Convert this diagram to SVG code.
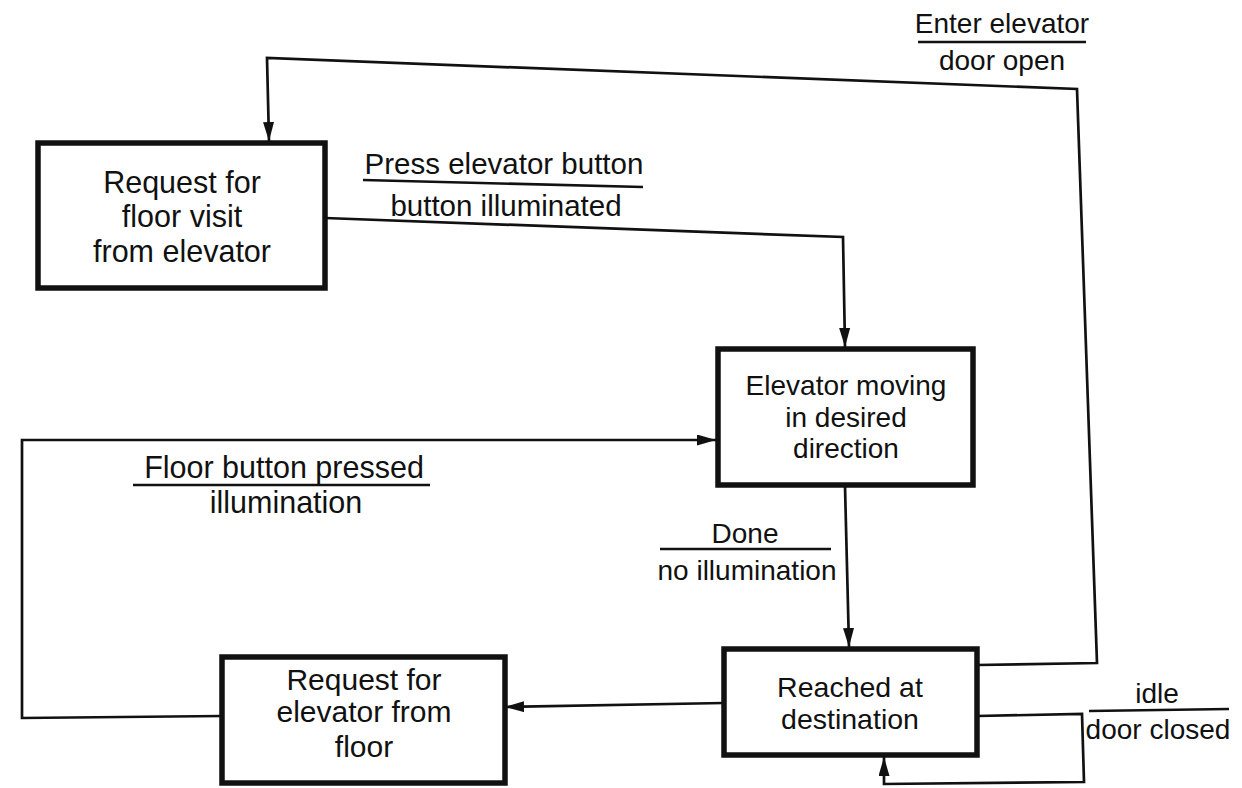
<svg xmlns="http://www.w3.org/2000/svg" width="1242" height="788" viewBox="0 0 1242 788">
  <style>
    .box { fill: #ffffff; stroke: #111111; stroke-width: 5.5; }
    .wire { fill: none; stroke: #111111; stroke-width: 2.7; stroke-linejoin: miter; }
    .rule { fill: none; stroke: #111111; stroke-width: 2.5; }
    .t { font-family: "Liberation Sans", Arial, Helvetica, sans-serif; fill: #111111; text-anchor: middle; }
    .lbl { font-size: 28px; }
  </style>
  <defs>
    <marker id="arrow" viewBox="0 0 19 11" refX="19" refY="5.5" markerWidth="19" markerHeight="11" markerUnits="userSpaceOnUse" orient="auto">
      <path d="M0,0 L19,5.5 L0,11 z" fill="#111111"/>
    </marker>
  </defs>
  <rect width="1242" height="788" fill="#ffffff"/>

  <!-- transitions -->
  <g id="connectors">
    <polyline class="wire" points="977,665 1097,663 1077,89 267,58 269,141" marker-end="url(#arrow)"/>
    <polyline class="wire" points="325,218 843,237 845,347" marker-end="url(#arrow)"/>
    <polyline class="wire" points="222,716 22,718 22,440 716,440" marker-end="url(#arrow)"/>
    <polyline class="wire" points="845,486 849,647" marker-end="url(#arrow)"/>
    <polyline class="wire" points="724,703 505,707" marker-end="url(#arrow)"/>
    <polyline class="wire" points="977,716 1082,714 1084,782 884,784 884,757" marker-end="url(#arrow)"/>
  </g>

  <!-- transition labels: event over action -->
  <g id="label-enter">
    <text class="t lbl" x="1002" y="33">Enter elevator</text>
    <line class="rule" x1="918" y1="42" x2="1086" y2="42"/>
    <text class="t lbl" x="1002" y="70">door open</text>
  </g>
  <g id="label-press">
    <text class="t" font-size="29.5" x="504" y="174">Press elevator button</text>
    <line class="rule" x1="363" y1="180" x2="643" y2="187"/>
    <text class="t" font-size="29.5" x="506" y="216">button illuminated</text>
  </g>
  <g id="label-floor">
    <text class="t" font-size="30.5" x="284" y="478">Floor button pressed</text>
    <line class="rule" x1="133" y1="485" x2="430" y2="485"/>
    <text class="t" font-size="30.5" x="286" y="513">illumination</text>
  </g>
  <g id="label-done">
    <text class="t lbl" x="745" y="543">Done</text>
    <line class="rule" x1="660" y1="549" x2="831" y2="549"/>
    <text class="t lbl" x="747" y="580">no illumination</text>
  </g>
  <g id="label-idle">
    <text class="t lbl" x="1157" y="703">idle</text>
    <line class="rule" x1="1089" y1="711" x2="1229" y2="709"/>
    <text class="t lbl" x="1158" y="739">door closed</text>
  </g>

  <!-- states -->
  <g id="state-floor-visit" font-size="30.5">
    <rect class="box" x="38" y="143" width="287" height="145"/>
    <text class="t" x="182" y="193">Request for</text>
    <text class="t" x="182" y="227">floor visit</text>
    <text class="t" x="182" y="262">from elevator</text>
  </g>
  <g id="state-moving" font-size="28">
    <rect class="box" x="718" y="349" width="255" height="136"/>
    <text class="t" x="846" y="395">Elevator moving</text>
    <text class="t" x="846" y="427">in desired</text>
    <text class="t" x="846" y="458">direction</text>
  </g>
  <g id="state-floor-request" font-size="30">
    <rect class="box" x="222" y="657" width="283" height="126"/>
    <text class="t" x="364" y="690">Request for</text>
    <text class="t" x="364" y="722">elevator from</text>
    <text class="t" x="364" y="757">floor</text>
  </g>
  <g id="state-reached" font-size="28.5">
    <rect class="box" x="724" y="649" width="253" height="106"/>
    <text class="t" x="850" y="697">Reached at</text>
    <text class="t" x="850" y="729">destination</text>
  </g>
</svg>
